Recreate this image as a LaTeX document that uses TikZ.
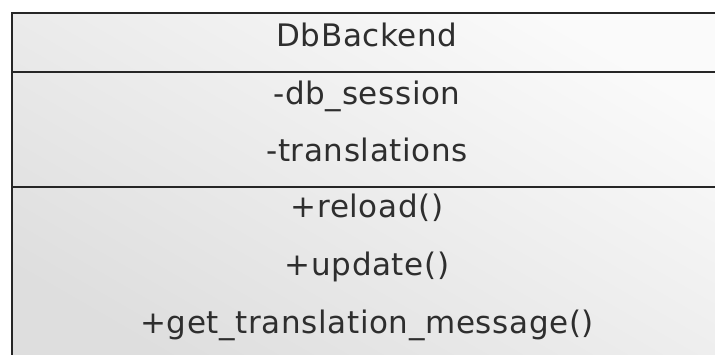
\documentclass[tikz,border=0pt]{standalone}
\usepackage{fontspec}
\setmainfont{DejaVu Sans}[LetterSpace=2]
\begin{document}
\begin{tikzpicture}[x=1pt,y=-1pt,
  member/.style={font=\fontsize{31}{31}\selectfont, anchor=base, text=black!82, inner sep=0pt},
  rule/.style={line width=2.5pt, draw=black!85}]
\useasboundingbox (0,0) rectangle (715,355);
\clip (0,0) rectangle (715,355);
% class box corners (the box runs past the right and lower edges)
\coordinate (tl) at (12,13);
\coordinate (br) at (724,380);
\shade[top color=white!98!black, bottom color=white!87!black, shading angle=-30]
  (tl) rectangle (br);
% outline and compartment rules
\draw[rule] (tl) rectangle (br);
\draw[rule] (12,72) -- (724,72);
\draw[rule] (12,187) -- (724,187);
% class name
\node[member] (name) at (367,47) {DbBackend};
% attributes
\node[member] (a1) at (367,105) {-db\_session};
\node[member] (a2) at (367,162) {-translations};
% operations
\node[member] (m1) at (367,218) {+reload()};
\node[member] (m2) at (367,276) {+update()};
\node[member] (m3) at (367,334) {+get\_translation\_message()};
\end{tikzpicture}
\end{document}
